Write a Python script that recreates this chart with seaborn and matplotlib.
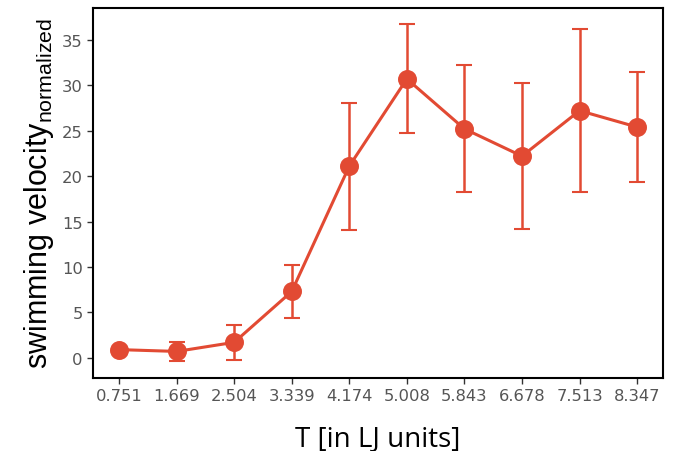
import numpy as np
import pandas as pd
import seaborn as sns
import matplotlib.pyplot as plt

# Data
temps = ["0.751", "1.669", "2.504", "3.339", "4.174",
         "5.008", "5.843", "6.678", "7.513", "8.347"]
velocity = [0.9, 0.7, 1.7, 7.3, 21.1, 30.7, 25.2, 22.2, 27.2, 25.4]
velocity_err = [0.0, 1.05, 1.95, 2.95, 7.0, 6.0, 7.0, 8.0, 9.0, 6.05]

COLOR = "#e24a33"

sns.set_style("ticks")
plt.rcParams["font.family"] = ["DejaVu Sans"]
plt.rcParams["mathtext.fontset"] = "custom"
plt.rcParams["mathtext.rm"] = "Liberation Sans"
plt.rcParams["mathtext.it"] = "Liberation Sans"

df = pd.DataFrame({"T": temps, "v": velocity, "err": velocity_err})

fig = plt.figure(figsize=(6.8, 4.52), dpi=100)
ax = fig.add_axes([0.137, 0.162, 0.838, 0.818])

sns.pointplot(data=df, x="T", y="v", color=COLOR, errorbar=None,
              markersize=12, linewidth=2.2, ax=ax)

# error bars at the categorical positions seaborn used
xpos = np.arange(len(df))
ax.errorbar(xpos, df["v"], yerr=df["err"], fmt="none", ecolor=COLOR,
            elinewidth=1.8, capsize=6, capthick=1.5, zorder=1)

ax.set_xlim(-0.45, 9.45)
ax.set_ylim(-2.2, 38.5)
ax.set_yticks(range(0, 40, 5))

for side in ["top", "right", "left", "bottom"]:
    ax.spines[side].set_visible(True)
    ax.spines[side].set_color("black")
    ax.spines[side].set_linewidth(1.5)

ax.tick_params(labelsize=11.8, labelcolor="#555555", color="#333333",
               length=4, width=1)

ax.set_xlabel("T [in LJ units]", fontsize=20, family="Open Sans",
              color="black", labelpad=15)
ax.set_ylabel(r"swimming velocity$_{\mathrm{normalized}}$", fontsize=22,
              family="Liberation Sans", color="black", labelpad=4)

fig.savefig("out.png", dpi=100, facecolor="white")
